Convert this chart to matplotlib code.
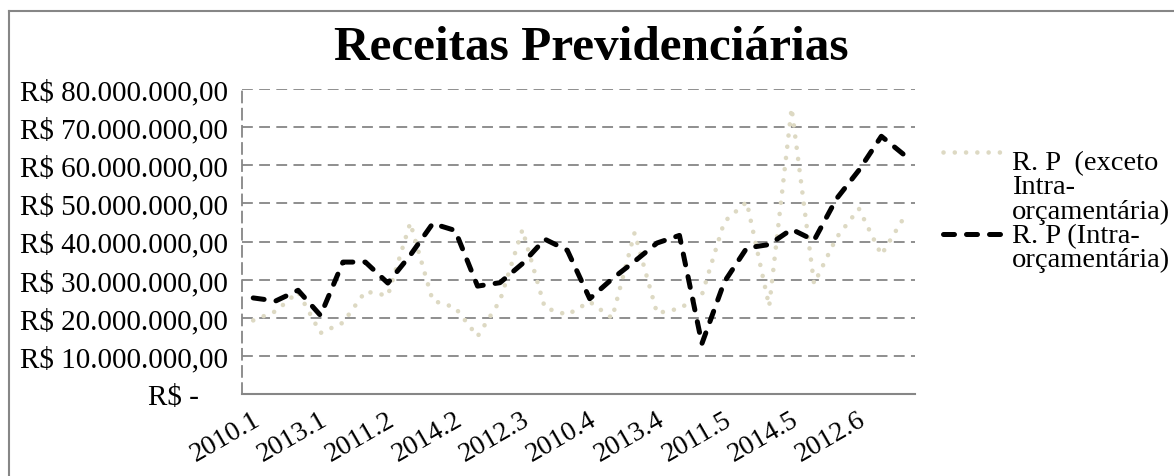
import numpy as np
import matplotlib.pyplot as plt
import matplotlib.transforms as mtransforms
from matplotlib.lines import Line2D
from matplotlib.ticker import FuncFormatter

plt.rcParams['font.family'] = ['Liberation Serif', 'DejaVu Serif']

# periodos: ano.mes, ordenados por mes e depois por ano
periodos = ['%d.%d' % (ano, mes) for mes in range(1, 7) for ano in range(2010, 2015)]

# R. P (exceto Intra-orcamentaria), em milhoes de R$
rp_exceto = [19.3, 21.7, 26.8, 16.0, 18.7, 26.9, 25.8, 44.9, 24.5, 22.7,
             15.1, 24.5, 43.1, 22.6, 20.8, 24.2, 19.9, 42.3, 21.2, 22.4,
             26.0, 45.2, 50.4, 23.0, 75.0, 28.9, 41.0, 48.6, 36.5, 46.2]
# R. P (Intra-orcamentaria), em milhoes de R$
rp_intra = [25.2, 24.4, 27.2, 20.6, 34.6, 34.6, 29.1, 36.4, 44.7, 42.9,
            28.3, 29.2, 34.2, 40.6, 37.7, 25.0, 30.2, 34.8, 39.6, 41.6,
            13.2, 29.4, 38.3, 39.2, 43.2, 40.3, 51.2, 58.7, 67.6, 62.8]

linhas_exceto = ['R. P  (exceto', 'Intra-', 'orçamentária)']
linhas_intra = ['R. P (Intra-', 'orçamentária)']

cinza = '#868686'
bege = '#DDD9C3'

fig = plt.figure(figsize=(11.74, 4.77), dpi=100)
ax = fig.add_axes([242 / 1174, 82 / 477, 673 / 1174, 305 / 477])

x = np.arange(len(periodos))
y1 = np.array(rp_exceto) * 1e6
y2 = np.array(rp_intra) * 1e6

ax.plot(x, y1, color=bege, lw=3.3, dashes=(0.01, 2.45),
        dash_capstyle='round', solid_joinstyle='round')
ax.plot(x, y2, color='black', lw=3.6, dashes=(2.2, 2.4),
        dash_capstyle='round')

ax.set_xlim(-0.5, len(periodos) - 0.5)
ax.set_ylim(0, 80e6)
ax.set_yticks(np.arange(0, 80e6 + 1, 10e6))


def fmt_real(v, pos):
    # formato contabil: o traco do zero fica recuado
    if v == 0:
        return 'R$ -\u2007\u2007'
    s = '{:,.2f}'.format(v).replace(',', 'X').replace('.', ',').replace('X', '.')
    return 'R$ ' + s


ax.yaxis.set_major_formatter(FuncFormatter(fmt_real))
ax.set_xticks(x[::3])
ax.set_xticklabels(periodos[::3], rotation=30, ha='right', va='center',
                   rotation_mode='anchor')
ax.tick_params(axis='both', length=0)
ax.tick_params(axis='y', pad=10, labelsize=21)
ax.tick_params(axis='x', pad=17, labelsize=20)
desloc = mtransforms.ScaledTranslation(5 / 100, 0, fig.dpi_scale_trans)
for lab in ax.get_xticklabels():
    lab.set_transform(lab.get_transform() + desloc)

ax.grid(axis='y', color=cinza, lw=1.3, ls=(0, (6, 3.5)))
ax.set_axisbelow(True)
for s in ['top', 'right']:
    ax.spines[s].set_visible(False)
ax.spines['left'].set_color(cinza)
ax.spines['left'].set_linewidth(1.3)
ax.spines['left'].set_linestyle((0, (6, 3.5)))
ax.spines['bottom'].set_color(cinza)
ax.spines['bottom'].set_linewidth(1.5)

fig.text(0.504, 0.899, 'Receitas Previdenciárias', ha='center', va='center',
         fontsize=35.5, fontweight='bold')


# legenda manual
def fx(px):
    return px / 1174


def fy(py):
    return 1 - py / 477


fig.add_artist(Line2D([fx(943), fx(1000)], [fy(153), fy(153)], color=bege,
                      lw=3.3, dashes=(0.01, 2.45), dash_capstyle='round'))
for k, t in enumerate(linhas_exceto):
    fig.text(fx(1012), fy(170 + 24.3 * k), t, ha='left', va='baseline',
             fontsize=20.5)
fig.add_artist(Line2D([fx(943), fx(1004)], [fy(235), fy(235)], color='black',
                      lw=3.6, dashes=(2.2, 2.4), dash_capstyle='round'))
for k, t in enumerate(linhas_intra):
    fig.text(fx(1012), fy(243 + 24.3 * k), t, ha='left', va='baseline',
             fontsize=20.5)

# moldura do grafico
fig.add_artist(Line2D([fx(9), fx(9)], [fy(12), 0], color=cinza, lw=1.5))
fig.add_artist(Line2D([fx(9), 1], [fy(12), fy(12)], color=cinza, lw=1.5))

fig.savefig('out.png', dpi=100)
